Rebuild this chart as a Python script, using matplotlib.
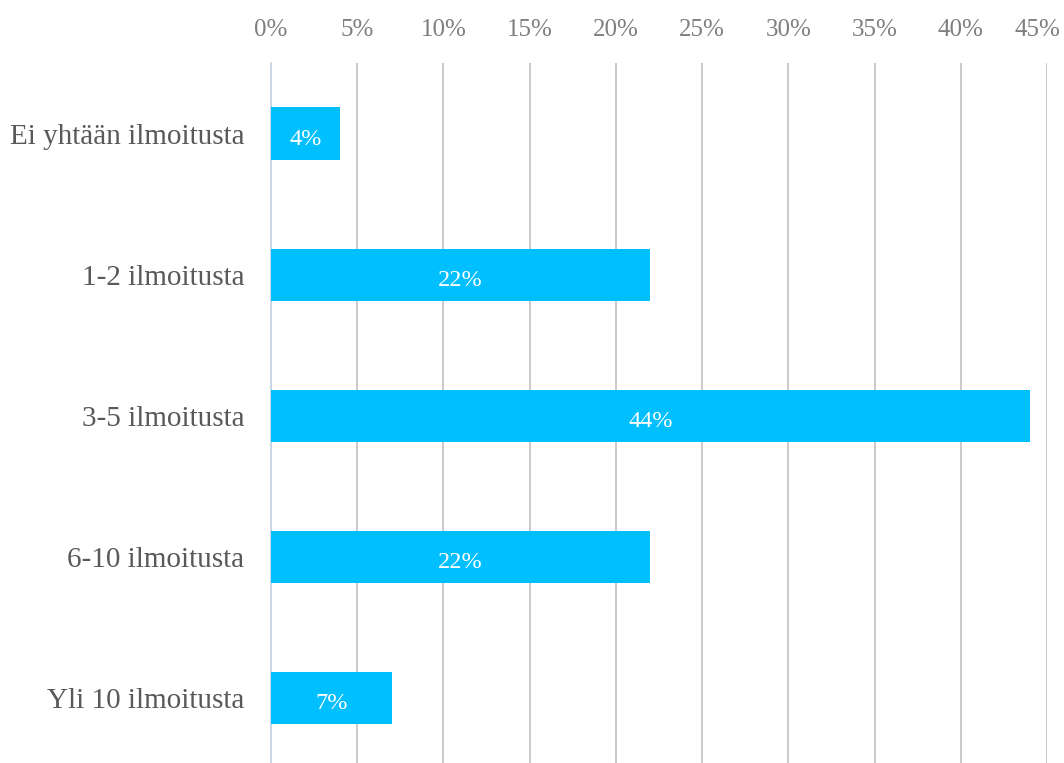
import matplotlib.pyplot as plt
from matplotlib.transforms import ScaledTranslation

categories = ['Ei yhtään ilmoitusta', '1-2 ilmoitusta', '3-5 ilmoitusta',
              '6-10 ilmoitusta', 'Yli 10 ilmoitusta']
shares = [4, 22, 44, 22, 7]
ticks = [0, 5, 10, 15, 20, 25, 30, 35, 40, 45]

plt.rcParams['font.family'] = ['Liberation Serif', 'DejaVu Serif']

fig = plt.figure(figsize=(10.64, 7.63), dpi=100)
ax = fig.add_axes([271 / 1064, 0, (1047 - 271) / 1064, 1 - 63 / 763])

pos = list(range(len(categories)))
ax.barh(pos, shares, height=0.37, color='#00bfff', zorder=3)
for p, v in zip(pos, shares):
    ax.text(v / 2, p + 0.04, f'{v}%', color='white', fontsize=17.5,
            ha='center', va='center', zorder=4)

ax.set_xlim(0, 45)
ax.set_ylim(4.46, -0.5)
ax.set_xticks(ticks)
ax.set_xticklabels([f'{t}%' for t in ticks])
ax.xaxis.tick_top()
ax.tick_params(axis='x', length=0, pad=16, labelsize=18, labelcolor='#7f7f7f')
ax.set_yticks(pos)
ax.set_yticklabels(categories)
ax.tick_params(axis='y', length=0, pad=19, labelsize=21, labelcolor='#595959')

# keep the last percentage label inside the figure
last = ax.get_xticklabels()[-1]
last.set_transform(last.get_transform() + ScaledTranslation(-10 / 100, 0, fig.dpi_scale_trans))

ax.grid(axis='x', color='#c6c6c6', linewidth=1.3, zorder=0)
for side in ['top', 'right', 'bottom']:
    ax.spines[side].set_visible(False)
ax.spines['left'].set_color('#c9d7e8')
ax.spines['left'].set_linewidth(1.3)

fig.savefig('out.png', dpi=100)
